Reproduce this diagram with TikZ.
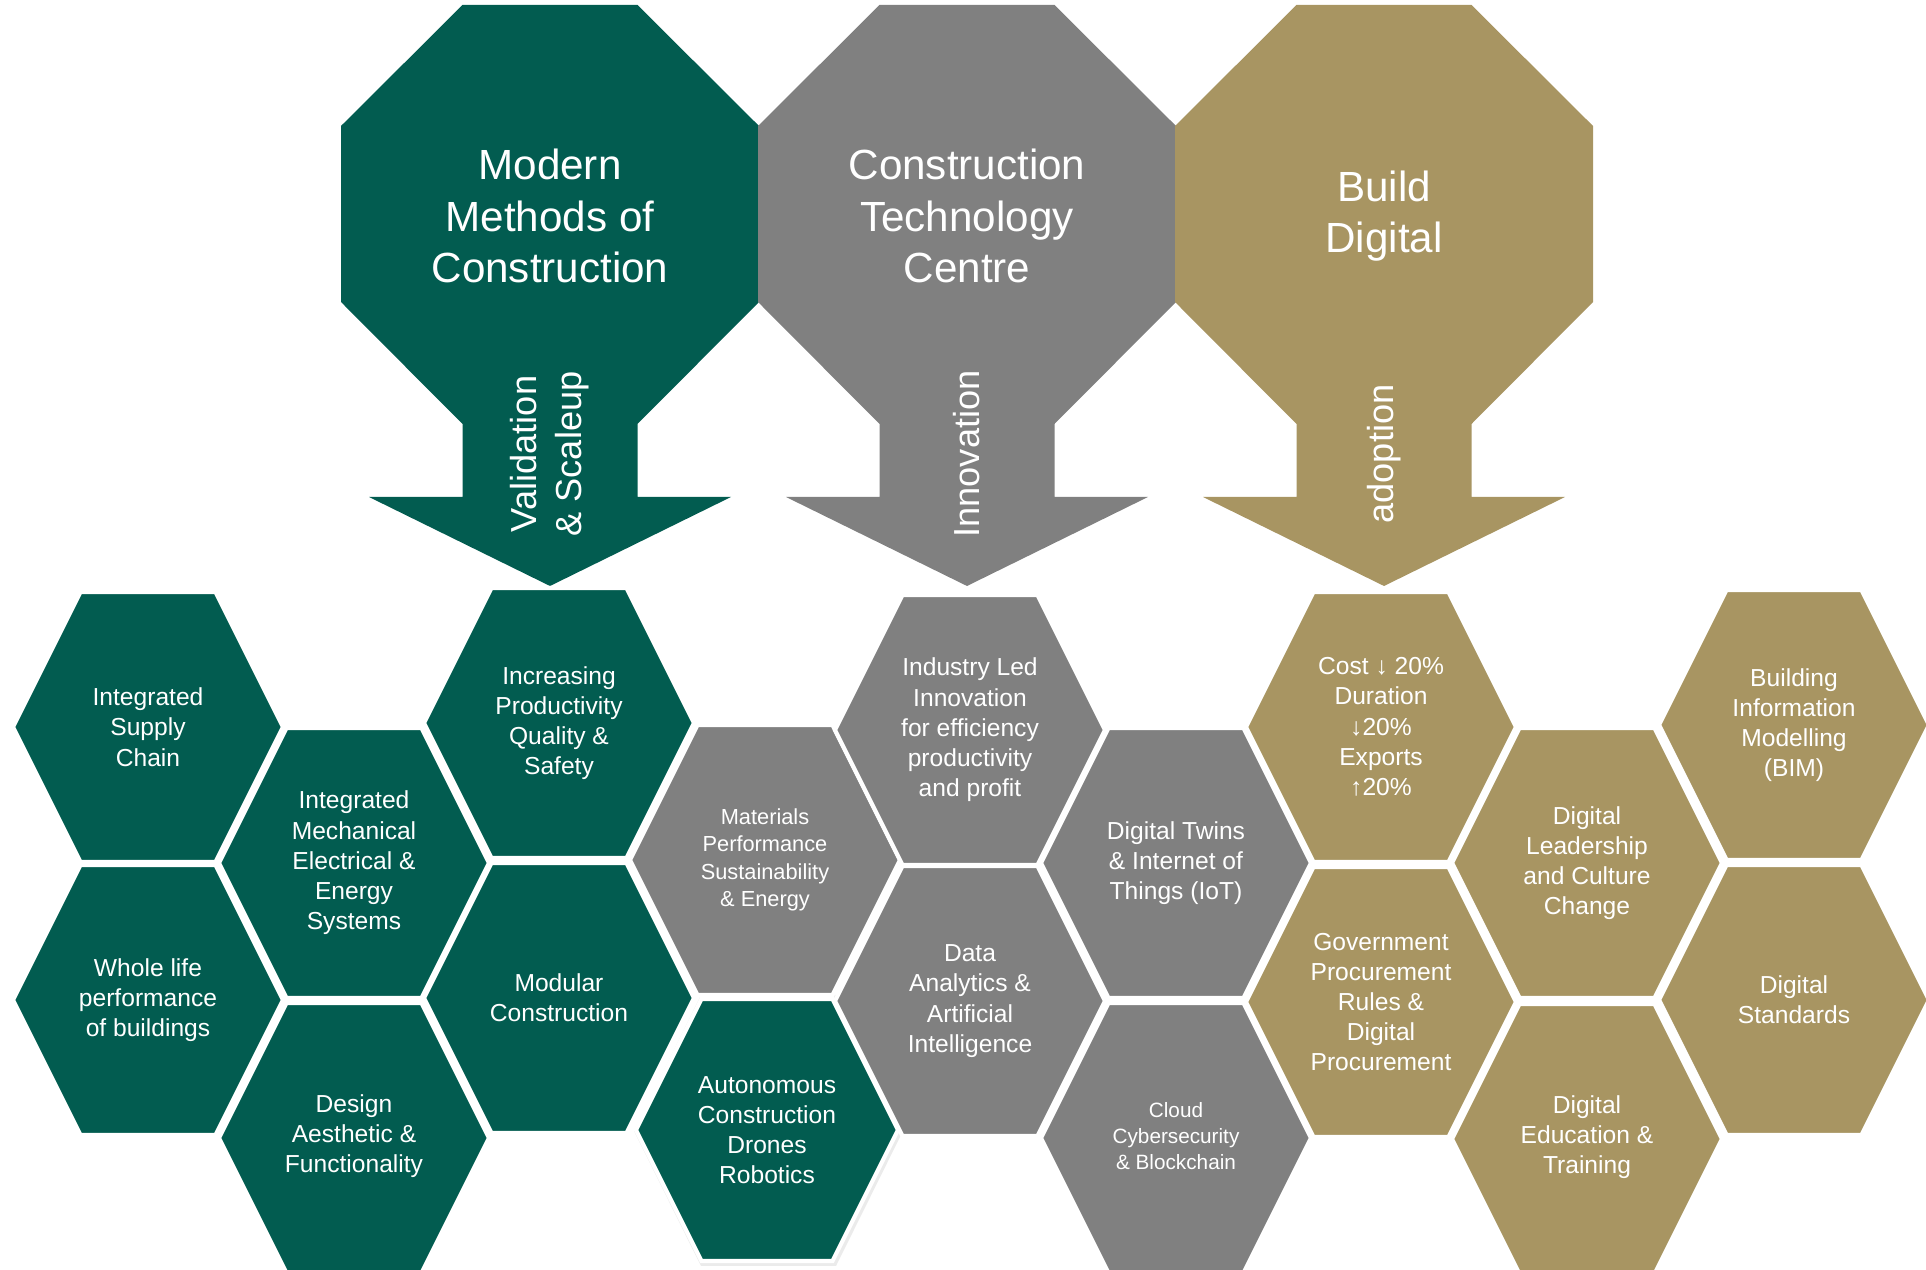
\documentclass[tikz,border=0pt]{standalone}
\usepackage{fontspec}
\setmainfont{Liberation Sans}
\definecolor{mmcgreen}{RGB}{2,92,80}
\definecolor{ctcgrey}{RGB}{128,128,128}
\definecolor{bdgold}{RGB}{168,149,98}
\begin{document}
\begin{tikzpicture}[x=0.1mm,y=-0.1mm]
		\tikzstyle{headtext}=[text=white,align=center,font=\fontsize{12}{14.7}\selectfont]
		\tikzstyle{flowtext}=[text=white,align=center,rotate=90,font=\fontsize{10.3}{12.8}\selectfont]
		\tikzstyle{hextext}=[text=white,align=center,inner sep=0pt,font=\fontsize{7}{8.6}\selectfont]
		\tikzstyle{hexsmall}=[hextext,font=\fontsize{6.2}{7.8}\selectfont]
		\tikzstyle{hextiny}=[hextext,font=\fontsize{5.9}{7.3}\selectfont]
		\tikzstyle{cell}=[inner sep=0pt,minimum size=0pt]

		\useasboundingbox (0,0) rectangle (1926,1270);
		\clip (0,0) rectangle (1926,1270);

		% header arrows
		\foreach \c/\col/\z in {550/mmcgreen/mmc,967/ctcgrey/ctc,1384/bdgold/bd} {
			\fill[\col] ({\c-87.5},5) -- ({\c+87.5},5) -- ({\c+209},126) -- ({\c+209},302) -- ({\c+87.5},424) -- ({\c+87.5},497) -- ({\c+181},497) -- (\c,586) -- ({\c-181},497) -- ({\c-87.5},497) -- ({\c-87.5},424) -- ({\c-209},302) -- ({\c-209},126) -- cycle;
			\coordinate (\z) at (\c,216);
			\coordinate (s\z) at (\c,454);
		}

		\node[headtext] (hmmc) at (mmc) {Modern\\Methods of\\Construction};
		\node[headtext] (hctc) at (ctc) {Construction\\Technology\\Centre};
		\node[headtext] (hbd) at (bd) {Build\\Digital};
		\node[flowtext] (fmmc) at (smmc) {Validation\\\& Scaleup};
		\node[flowtext] (fctc) at (sctc) {Innovation};
		\node[flowtext] (fbd) at (sbd) {adoption};

		% shadow under the robotics cell
		\fill[black!8] (701,995) -- (836,995) -- (903,1131) -- (836,1266) -- (701,1266) -- (634,1131) -- cycle;

		% hexagon cells
		\foreach \x/\y/\r/\col/\z in {148/727/135/mmcgreen/isc,148/1000/135/mmcgreen/wlp,354/863/135/mmcgreen/imee,354/1138/135/mmcgreen/daf,
			559/723/135/mmcgreen/ipqs,559/998/135/mmcgreen/mod,765/860/135/ctcgrey/mat,767/1130/131/mmcgreen/aut,
			970/730/135/ctcgrey/ili,970/1001/135/ctcgrey/daai,1176/863/135/ctcgrey/dtw,1176/1138/135/ctcgrey/ccb,
			1381/727/135/bdgold/cost,1381/1002/135/bdgold/gov,1587/863/135/bdgold/dlc,1587/1139/135/bdgold/det,
			1794/725/135/bdgold/bim,1794/1000/135/bdgold/dst} {
			\filldraw[fill=\col,draw=white,line width=1.2pt] ({\x-\r/2},{\y-\r}) -- ({\x+\r/2},{\y-\r}) -- ({\x+\r},\y) -- ({\x+\r/2},{\y+\r}) -- ({\x-\r/2},{\y+\r}) -- ({\x-\r},\y) -- cycle;
			\node[cell] (\z) at (\x,\y) {};
		}

		\node[hextext] (tisc) at (isc) {Integrated\\Supply\\Chain};
		\node[hextext] (twlp) at (wlp) {Whole life\\performance\\of buildings};
		\node[hextext] (timee) at (imee) {Integrated\\Mechanical\\Electrical \&\\Energy\\Systems};
		\node[hextext] (tdaf) at (354,1136) {Design\\Aesthetic \&\\Functionality};
		\node[hextext] (tipqs) at (ipqs) {Increasing\\Productivity\\Quality \&\\Safety};
		\node[hextext] (tmod) at (mod) {Modular\\Construction};
		\node[hexsmall] (tmat) at (mat) {Materials\\Performance\\Sustainability\\\& Energy};
		\node[hextext] (taut) at (aut) {Autonomous\\Construction\\Drones\\Robotics};
		\node[hextext] (tili) at (ili) {Industry Led\\Innovation\\for efficiency\\productivity\\and profit};
		\node[hextext] (tdaai) at (daai) {Data\\Analytics \&\\Artificial\\Intelligence};
		\node[hextext] (tdtw) at (dtw) {Digital Twins\\\& Internet of\\Things (IoT)};
		\node[hextiny] (tccb) at (1176,1136) {Cloud\\Cybersecurity\\\& Blockchain};
		\node[hextext] (tcost) at (cost) {Cost ↓ 20\%\\Duration\\↓20\%\\Exports\\↑20\%};
		\node[hextext] (tgov) at (gov) {Government\\Procurement\\Rules \&\\Digital\\Procurement};
		\node[hextext] (tdlc) at (dlc) {Digital\\Leadership\\and Culture\\Change};
		\node[hextext] (tdet) at (1587,1137) {Digital\\Education \&\\Training};
		\node[hextext] (tbim) at (bim) {Building\\Information\\Modelling\\(BIM)};
		\node[hextext] (tdst) at (dst) {Digital\\Standards};

	\end{tikzpicture}
\end{document}
